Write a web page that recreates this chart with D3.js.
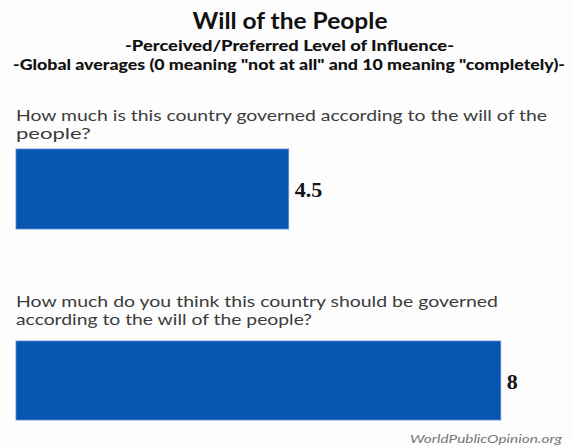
<!DOCTYPE html>
<html>
<head>
<meta charset="utf-8">
<script src="https://cdn.jsdelivr.net/npm/d3@7"></script>
<style>
  body { margin: 0; background: #fff; }
  svg { display: block; }
</style>
</head>
<body>
<div id="chart"></div>
<script>
// data
var title = 'Will of the People';
var subtitles = [
  '-Perceived/Preferred Level of Influence-',
  '-Global averages (0 meaning "not at all" and 10 meaning "completely)-'
];
var questions = [
  ["How much is this country governed according to the will of the", "people?"],
  ["How much do you think this country should be governed", "according to the will of the people?"]
];
var values = [4.5, 8];
var valueLabels = ["4.5", "8"];
var source = 'WorldPublicOpinion.org';

var width = 572, height = 446;

var svg = d3.select('#chart').append('svg')
  .attr('width', width)
  .attr('height', height);

svg.append('rect').attr('width', width).attr('height', height).attr('fill', '#fdfdfd');

// 0..10 scale, bars start at the left margin
var x = d3.scaleLinear().domain([0, 10]).range([16, 622]);

var sans = 'Lato, "Open Sans", sans-serif';

// titles
svg.append('text')
  .attr('x', 290).attr('y', 29)
  .attr('text-anchor', 'middle')
  .attr('textLength', 195)
  .attr('lengthAdjust', 'spacingAndGlyphs')
  .style('font-family', sans)
  .style('font-weight', 'bold')
  .style('font-size', '22px')
  .attr('fill', '#111')
  .text(title);

var subW = [329, 552];
var subY = [51, 70];
svg.selectAll('.sub')
  .data(subtitles)
  .enter().append('text')
  .attr('class', 'sub')
  .attr('x', function(d, i) { return i === 0 ? 289.5 : 289; })
  .attr('y', function(d, i) { return subY[i]; })
  .attr('text-anchor', 'middle')
  .attr('textLength', function(d, i) { return subW[i]; })
  .attr('lengthAdjust', 'spacingAndGlyphs')
  .style('font-family', sans)
  .style('font-weight', '900')
  .style('font-size', '14.5px')
  .attr('fill', '#111')
  .text(function(d) { return d; });

// layout per block
var blocks = [
  { textY: 121, lineGap: 18, lineW: [531, 75], barY: 149, barH: 80 },
  { textY: 307, lineGap: 18, lineW: [482, 296], barY: 341, barH: 79 }
];

var g = svg.selectAll('.block')
  .data(values)
  .enter().append('g')
  .attr('class', 'block');

g.each(function(d, i) {
  var el = d3.select(this);
  var b = blocks[i];
  questions[i].forEach(function(line, j) {
    el.append('text')
      .attr('x', 16)
      .attr('y', b.textY + j * b.lineGap)
      .attr('textLength', b.lineW[j])
      .attr('lengthAdjust', 'spacingAndGlyphs')
      .style('font-family', sans)
      .style('font-size', '15px')
      .attr('fill', '#3c3c3c')
      .text(line);
  });

  el.append('rect')
    .attr('x', x(0))
    .attr('y', b.barY)
    .attr('width', x(d) - x(0))
    .attr('height', b.barH)
    .attr('fill', '#0656b1')
    .attr('stroke', '#5b8fd0')
    .attr('stroke-width', 0.8);

  el.append('text')
    .attr('x', x(d) + 6)
    .attr('y', b.barY + b.barH / 2 + 8)
    .style('font-family', '"Liberation Serif", "DejaVu Serif", serif')
    .style('font-weight', 'bold')
    .style('font-size', '22px')
    .attr('fill', '#151515')
    .text(valueLabels[i]);
});

svg.append('text')
  .attr('x', 562).attr('y', 443)
  .attr('text-anchor', 'end')
  .attr('textLength', 152)
  .attr('lengthAdjust', 'spacingAndGlyphs')
  .style('font-family', sans)
  .style('font-style', 'italic')
  .style('font-size', '12px')
  .attr('fill', '#777')
  .text(source);
</script>
</body>
</html>
